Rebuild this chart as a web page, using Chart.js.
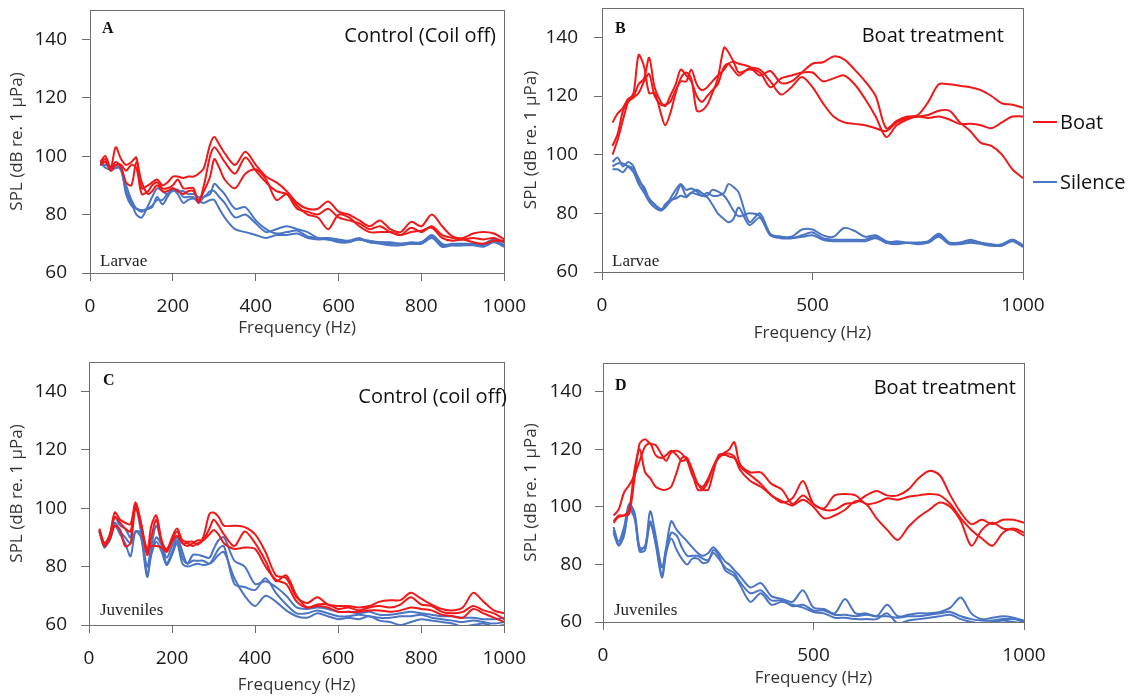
<!DOCTYPE html>
<html>
<head>
<meta charset="utf-8">
<script src="https://cdn.jsdelivr.net/npm/chart.js@4.4.1/dist/chart.umd.min.js"></script>
<style>
  body { margin: 0; background: #fff; }
  #page { position: relative; width: 1134px; height: 696px; overflow: hidden; font-family: "Open Sans", sans-serif; }
  canvas { position: absolute; }
  .note { position: absolute; font-size: 20px; line-height: 24px; color: #111; white-space: nowrap; }
  .tag { position: absolute; font-family: "Liberation Serif", serif; font-weight: bold; font-size: 16px; line-height: 16px; color: #111; }
  .stage { position: absolute; font-family: "Liberation Serif", serif; font-size: 17px; line-height: 17px; color: #222; white-space: nowrap; }
  .key { position: absolute; width: 24px; height: 2px; }
</style>
</head>
<body>
<div id="page">
  <canvas id="chartA"></canvas>
  <canvas id="chartB"></canvas>
  <canvas id="chartC"></canvas>
  <canvas id="chartD"></canvas>

  <div class="tag" style="left:102px; top:20px;">A</div>
  <div class="tag" style="left:615px; top:20px;">B</div>
  <div class="tag" style="left:103px; top:372px;">C</div>
  <div class="tag" style="left:615px; top:377px;">D</div>

  <div class="note" style="right:638px; top:23px;">Control (Coil off)</div>
  <div class="note" style="right:130px; top:23px;">Boat treatment</div>
  <div class="note" style="right:627px; top:384px;">Control (coil off)</div>
  <div class="note" style="right:118px; top:375px;">Boat treatment</div>

  <div class="stage" style="left:100px; top:252px;">Larvae</div>
  <div class="stage" style="left:612px; top:252px;">Larvae</div>
  <div class="stage" style="left:100px; top:601px;">Juveniles</div>
  <div class="stage" style="left:614px; top:601px;">Juveniles</div>

  <div class="key" style="left:1033px; top:121px; background:#f01818;"></div>
  <div class="note" style="left:1060px; top:110px;">Boat</div>
  <div class="key" style="left:1033px; top:181px; background:#4a74c4;"></div>
  <div class="note" style="left:1060px; top:170px;">Silence</div>
</div>

<script>
// frequency bins (Hz), shared by every spectrum
const freqHz = [25, 37, 50, 62, 75, 87, 100, 112, 125, 140, 150, 162, 175, 187, 200, 212, 225, 237, 250, 262, 275, 290, 300, 312, 325,
  350, 375, 400, 425, 450, 475, 500, 525, 550, 575, 600, 625, 650, 675, 700, 725, 750, 775, 800, 825, 850, 875, 900, 925, 950, 975, 1000];

const xTicksFine = [0, 200, 400, 600, 800, 1000];
const xTicksCoarse = [0, 500, 1000];
const yTicks = [60, 80, 100, 120, 140];

// A - larvae, control (coil off)
const larvaeControlBoat = [
  [98,100,96,103,99,97,98,99.5,89, 90,91,92,90,91,93, 93,92.5,93,93,94,96, 104,106.5,104,101, 97,101.5,97,93,91,88,84,
   82,82,84.5,81,80,78,76,78,75,74,77.5,76,80,76,72.5,72,73.5,74,73.5,71.5],
  [97,99,95,97,97,95,97,96,87, 88,90,91,89,89,90, 92,89,89,89,84,90, 100,103,101,98, 94,99.5,95,91,88,87,82,
   81,80,82,79,78,77,75,76,74,73,75.5,74,76,73,72,71.5,72,71.5,72,70.5],
  [97,98,96,98,96,91,90,98,91, 87,88,90,88,88,89, 88,87,88,88,85,88, 93,99,96,92, 89,94,95.5,92,85,87,83,
   80,79,75,80,79,76,74,74,74,73,74,74.5,75.5,72,71,71.5,70.5,70,71,71]
];
const larvaeControlSilence = [
  [97,98,95,96,96,90,85,82,81, 82,83,85,85,87,88, 88.5,86,86,86,84,86, 87,90.5,89,87, 82,82.5,78,75,73.5,74,74.5,
   72.5,72,71.5,71,71,72,70.5,70.5,70,70,70,70.5,72.5,69.5,70,70,70,70,71.5,69.5],
  [98,96,95.5,97,95,88,84,80,79, 83,86,89,88,87,89, 88,88,87,87,86,86, 88,88,86,84, 79,80,77,74,75,76,75,
   74,72,72,71.5,71,71.5,71,70.5,70.5,70,70.5,70.5,73,70,69.5,69.5,70,69.5,71,69],
  [97,97,96,96,96,87,83,82,81.5, 82,82.5,86,83.5,86,88.5, 87,84,85,85.5,84.5,84, 85,85,82,79, 75,74,73,72,73,73,73.5,
   72,71.5,71.5,70.5,70.5,71.5,70.5,70,69.5,69.5,70,70,72,69,69.5,69.5,69.5,69,70.5,69]
];

// B - larvae, boat treatment
const larvaeBoatBoat = [
  [111,114,116,119,120,124,126,133,123, 118,116.5,120,124,129,127, 125,120,118,120,122,124, 130,131,129,127, 129.5,129,125,120.5,123,126.5,123,
   117.5,113,111,110.5,110,109,108,111,112.5,113,113.5,115,115,111,108,104,103,100,95,92],
  [100,105,112,118,121,134,130,121,121, 114,110,114,121,126,128, 126,115,115,117,121,126, 136.5,135,132,131, 130,127,128.5,124.5,125,128,131,
   131.5,133.5,132.5,129,125,120,109,111.5,113,113.5,118,124,124,123.5,123,122,120,117.5,117,116],
  [103,107,115,118,119.5,121,125,127.5,120, 117,117,118,122,125,125, 129,124,122,123,125,127, 129,131,131.5,128, 129,128,123,126,127,128,128,
   125,126,127,124,119,113,106,110,112,113,112.5,113,112,110.5,110.5,110,109,111,113,113]
];
const larvaeBoatSilence = [
  [95,95,94,96,95,92,88,85,83, 81.5,82,84,86,89.5,86, 87,88,87,86,88,87.5, 86,84,81,79, 80,79,72.5,72,72,74.5,74.5,
   72.5,72,75,74,72,72.5,70.5,70,70,70,70.5,73,70,70,71,70,69.5,69,71,69],
  [97.5,99,96,97.5,96,91,89,85,83, 81,82,85,88,90,88, 88.5,87.5,86,87,86,86, 87,90,89,87, 77,80,73,72,71.5,72.5,73.5,
   71.5,71,71,71,71,72,70,70.5,70,70,70,72.5,70,70,70.5,70,69,69.5,71,69],
  [96,97,97,96,94,90,87,84,82, 81,83,84.5,85,86,85.5, 87,86.5,86,85.5,83,80, 78,77,78,82, 76,78.5,72.5,71.5,71.5,72,72.5,
   71,70.5,70.5,70.5,70.5,71.5,70,69.5,70,69.5,70,72,69.5,69.5,70,69.5,69,69,70.5,68.5]
];

// C - juveniles, control (coil off)
const juvenileControlBoat = [
  [93,88,91,98.5,96,95,94.5,102,95, 85,94,97.5,89,85.5,90, 93,89,88.5,88.5,87.5,90, 98,98.5,97,94, 94,93.5,91,85,77,76,69.5,
   67.5,69.5,67,66.5,66.5,66,66.5,68,68.5,68.5,71,69,67,65.5,65,66,71,68,65,64],
  [92.5,87,90,97,95,93,92,101.5,95, 84,90,96,88,86,89, 92,88,88,87,88,89, 93,96,94,91, 87,92,88,82,75,77,70,
   66,67,67,65.5,66,65,66,66.5,66,67,69.5,67,66.5,64.5,64,64.5,66.5,65,64,62],
  [92,88,89.5,94,92.5,87,88,100,94, 86,87,87,86.5,85,88.5, 90.5,88,87,88,89,89, 91,92.5,91,88, 86,86.5,86,80,75.5,74,68,
   66,66.5,66,64.5,64.5,64.5,65,65,64.5,65,66,65.5,65,63.5,63,62.5,65.5,64,62.5,61]
];
const juvenileControlSilence = [
  [92.5,86.5,90,97,94,93,90,101,92, 80,87,94,88,83,87, 90,85,81,84,84,83.5, 83,86,89,90, 82,80,74,75,73,70,66,
   65.5,66,65.5,64.5,64.5,64,64.5,63.5,63.5,64,64.5,64,63.5,63,63,62.5,62.5,62,62,62.5],
  [92,87,89,95,92,90,88,92,91.5, 77,85,90,87,81,85, 89,83,81,82,82,82, 81,83,86,87, 74,73,72,76,71,67,64,
   64,65,64,63,63,63.5,63,62.5,62.5,63,63,63.5,62.5,62,61.5,61,61.5,61,60.5,61],
  [92,87.5,89,94,91,88,83.5,92,90, 76.5,84,88.5,85,80.5,84, 88,81,80,80.5,81,80.5, 81,82,84,85, 76,70,66.5,70,68,65,63,
   62.5,64,63,62,62.5,62,63,61.5,61,60,61,62,61.5,61,60.5,59.5,60,60.5,59.5,60]
];

// D - juveniles, boat treatment
const juvenileBoatBoat = [
  [95,97,97,97.5,110,122,123.5,122,121.5, 118,116,119,119.5,118.5,116, 111,108,107,110,114,117, 119,120,122.5,115, 112,112,108,106,101,104,101,
   99,99,101,101.5,104,105.5,104,104,106,110,112.5,111,104,98,94,95.5,94,95.5,95.5,94.5],
  [97,99,105,107.5,111,116,121,122,118, 117,118,119.5,118,116,116.5, 113,108,106,106,112,118, 118.5,118.5,117.5,113, 109,107,104,101.5,103,109,101,
   99.5,104,104.5,104,101,101.5,103,102.5,103.5,104,104.5,104,101,96,92,89,86.5,91,92.5,91],
  [94.5,96.5,97,99,113,120,112,110,107, 106,106,107,112,117,117, 112,106,106,109,114,117.5, 118,117.5,117,114, 111,108,104,102,100.5,102.5,100,
   96,97,99,102,101,96,92,88.5,93,96.5,99,101.5,100,95,86.5,92,94.5,92.5,92,90]
];
const juvenileBoatSilence = [
  [93,88,93,101,98,86,86,98.5,90, 79,86,95,92,90,88, 86,84,83,84,86,84, 81,80,78,76, 72,73.5,69,68,67,71,65,
   64.5,63,68,63,63,62,66,62,62.5,63,63,63.5,65,68.5,63,61,61.5,62,61.5,60.5],
  [92,87,91,99,96,85,86.5,94,88, 76,85,91,90,86,83, 83,83,82,81.5,84,82, 79,78,77,74, 70,71,67.5,67.5,65.5,66,64,
   64,62.5,62.5,62,62.5,62,62,61.5,62,62,62.5,63,63.5,62,61,60.5,60.5,61,61,60],
  [91,86.5,90,100,97,84.5,85,95,87, 75.5,84,89,85,82,80, 82,82,80.5,81,85,83, 78,77,76,73, 67,70,66,67,66,65,63.5,
   63,61.5,61.5,61,61,61,63,59.5,60.5,61,61.5,62,62.5,61,60,59.5,60,60.5,60,59.5]
];

const RED = '#f01818';
const BLUE = '#4a74c4';
const AXIS = '#6e6e6e';
const FONT = '"Open Sans", sans-serif';

// box = canvas placement, area = plot frame in page pixels
// (canvas starts 30px above the frame, Chart.js keeps some room at the top anyway)
const panels = [
  { id: 'chartA', boat: larvaeControlBoat, silence: larvaeControlSilence, xTicks: xTicksFine,
    box: { left: 0, top: -20, width: 540, height: 361 }, area: { left: 90, top: 10, right: 513, bottom: 273 },
    yPad: 15, yTitlePad: 7, xTitlePad: 3 },
  { id: 'chartB', boat: larvaeBoatBoat, silence: larvaeBoatSilence, xTicks: xTicksCoarse,
    box: { left: 514, top: -22, width: 620, height: 368 }, area: { left: 602, top: 8, right: 1023, bottom: 272 },
    yPad: 16, yTitlePad: 7, xTitlePad: 3 },
  { id: 'chartC', boat: juvenileControlBoat, silence: juvenileControlSilence, xTicks: xTicksFine,
    box: { left: 0, top: 332, width: 540, height: 364 }, area: { left: 89, top: 362, right: 513, bottom: 625 },
    yPad: 14, yTitlePad: 7, xTitlePad: 1 },
  { id: 'chartD', boat: juvenileBoatBoat, silence: juvenileBoatSilence, xTicks: xTicksCoarse,
    box: { left: 514, top: 333, width: 620, height: 356 }, area: { left: 603, top: 363, right: 1024, bottom: 622 },
    yPad: 13, yTitlePad: 7, xTitlePad: 1 }
];

// draws the box round the plot area
const frame = {
  id: 'frame',
  afterDatasetsDraw(chart) {
    const { ctx, chartArea: a } = chart;
    ctx.save();
    ctx.strokeStyle = AXIS;
    ctx.lineWidth = 1;
    ctx.strokeRect(Math.round(a.left) + 0.5, Math.round(a.top) + 0.5, Math.round(a.right - a.left), Math.round(a.bottom - a.top));
    ctx.restore();
  }
};

function series(values, color) {
  return {
    data: freqHz.map((f, i) => ({ x: f, y: values[i] })),
    borderColor: color,
    borderWidth: 2,
    pointRadius: 0,
    tension: 0.3,
    fill: false
  };
}

function makeChart(p) {
  const canvas = document.getElementById(p.id);
  canvas.width = p.box.width;
  canvas.height = p.box.height;
  canvas.style.left = p.box.left + 'px';
  canvas.style.top = p.box.top + 'px';

  const yWidth = p.area.left - p.box.left;
  const xHeight = p.box.top + p.box.height - p.area.bottom;

  new Chart(canvas, {
    type: 'line',
    data: {
      datasets: [
        ...p.boat.map(v => series(v, RED)),
        ...p.silence.map(v => series(v, BLUE))
      ]
    },
    options: {
      responsive: false,
      animation: false,
      layout: {
        padding: { top: p.area.top - p.box.top, right: p.box.left + p.box.width - p.area.right, left: 0, bottom: 0 }
      },
      plugins: { legend: { display: false }, tooltip: { enabled: false } },
      scales: {
        x: {
          type: 'linear',
          min: 0,
          max: 1000,
          afterBuildTicks: s => { s.ticks = p.xTicks.map(v => ({ value: v })); },
          ticks: { font: { family: FONT, size: 19 }, color: '#1a1a1a', padding: 14, maxRotation: 0, autoSkip: false,
            callback: v => String(v) },
          grid: { drawOnChartArea: false, tickLength: 8, color: AXIS },
          border: { color: AXIS },
          title: { display: true, text: 'Frequency (Hz)', font: { family: FONT, size: 17 }, color: '#333',
            padding: { top: 0, bottom: p.xTitlePad } },
          afterFit: s => { s.height = xHeight; }
        },
        y: {
          min: 60,
          max: 150,
          afterBuildTicks: s => { s.ticks = yTicks.map(v => ({ value: v })); },
          ticks: { font: { family: FONT, size: 19 }, color: '#1a1a1a', padding: p.yPad, callback: v => String(v) },
          grid: { drawOnChartArea: false, tickLength: 8, color: AXIS },
          border: { color: AXIS },
          title: { display: true, text: 'SPL (dB re. 1 µPa)', font: { family: FONT, size: 17 }, color: '#333',
            padding: { top: p.yTitlePad, bottom: 0 } },
          afterFit: s => { s.width = yWidth; }
        }
      }
    },
    plugins: [frame]
  });
}

panels.forEach(makeChart);
</script>
</body>
</html>
